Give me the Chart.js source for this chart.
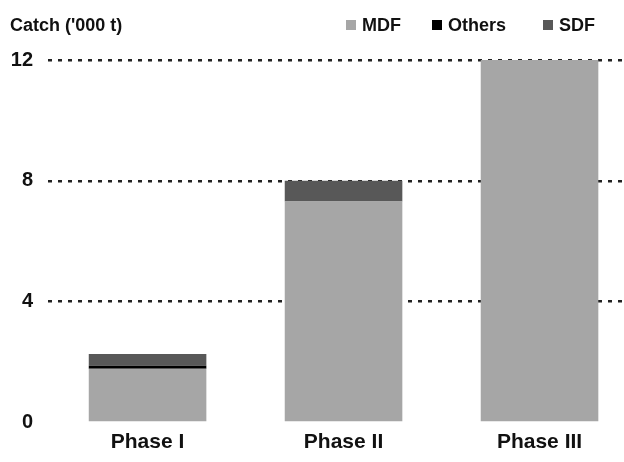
<!DOCTYPE html>
<html>
<head>
<meta charset="utf-8">
<script src="https://cdn.jsdelivr.net/npm/chart.js@4/dist/chart.umd.min.js"></script>
<style>
  html, body { margin: 0; padding: 0; background: #fff; overflow: hidden; }
  #wrap { position: relative; width: 624px; height: 462px; font-family: "Liberation Sans", Arial, sans-serif; }
  #c { position: absolute; left: 0; top: 0; }
  .t { position: absolute; font-weight: bold; font-size: 18px; line-height: 18px; color: #111; white-space: nowrap; }
  .sw { position: absolute; width: 10px; height: 10px; }
</style>
</head>
<body>
<div id="wrap">
  <canvas id="c" width="624" height="462"></canvas>
  <div class="t" id="title" style="left:10px; top:16px;"></div>
  <div id="legend"></div>
</div>
<script>
// ---- data ----
const categories = ["Phase I", "Phase II", "Phase III"];
const seriesNames = ["MDF", "Others", "SDF"];
const mdf    = [1.78, 7.32, 12.15];
const others = [0.10, 0.00, 0.00];
const sdf    = [0.39, 0.68, 0.00];
const yTicks = [0, 4, 8, 12];
const yTitle = "Catch ('000 t)";
const colors = ["#a6a6a6", "#000000", "#585858"];

// ---- title & legend (HTML text) ----
document.getElementById('title').textContent = yTitle;
const legendX = [346, 432, 543];
const legend = document.getElementById('legend');
seriesNames.forEach((name, i) => {
  const sw = document.createElement('div');
  sw.className = 'sw';
  sw.style.left = legendX[i] + 'px';
  sw.style.top = '20px';
  sw.style.background = colors[i];
  legend.appendChild(sw);
  const tx = document.createElement('div');
  tx.className = 't';
  tx.style.left = (legendX[i] + 16) + 'px';
  tx.style.top = '16px';
  tx.textContent = name;
  legend.appendChild(tx);
});

// ---- chart ----
const toPts = arr => arr.map((v, i) => ({ x: i, y: v }));
const seriesValues = [mdf, others, sdf];

new Chart(document.getElementById('c'), {
  type: 'bar',
  data: {
    datasets: seriesNames.map((name, i) => ({
      label: name,
      data: toPts(seriesValues[i]),
      backgroundColor: colors[i],
      borderWidth: 0,
      categoryPercentage: 1,
      barPercentage: 0.6
    }))
  },
  options: {
    responsive: false,
    animation: false,
    layout: { padding: { left: 11, right: 0, top: 60, bottom: 6 } },
    plugins: { legend: { display: false }, title: { display: false }, tooltip: { enabled: false } },
    scales: {
      x: {
        type: 'linear',
        stacked: true,
        offset: false,
        min: -0.508,
        max: 2.431,
        afterBuildTicks: s => { s.ticks = categories.map((c, i) => ({ value: i })); },
        afterFit: s => { s.height = 33.5; },
        ticks: {
          callback: v => categories[v],
          font: { family: "'Liberation Sans', Arial, sans-serif", size: 21, weight: 'bold' },
          color: '#111',
          padding: 7,
          maxRotation: 0,
          minRotation: 0,
          autoSkip: false
        },
        grid: { display: false, offset: false, drawTicks: false },
        border: { display: false }
      },
      y: {
        stacked: true,
        min: 0,
        max: 12,
        afterBuildTicks: s => { s.ticks = yTicks.map(v => ({ value: v })); },
        afterFit: s => { s.width = 37; },
        ticks: {
          font: { family: "'Liberation Sans', Arial, sans-serif", size: 20, weight: 'bold' },
          color: '#111',
          padding: 15
        },
        grid: {
          drawTicks: false,
          lineWidth: 2.5,
          color: ctx => (ctx.tick && ctx.tick.value === 0) ? 'rgba(0,0,0,0)' : '#222'
        },
        border: { display: false, dash: [4, 6] }
      }
    }
  }
});
</script>
</body>
</html>
